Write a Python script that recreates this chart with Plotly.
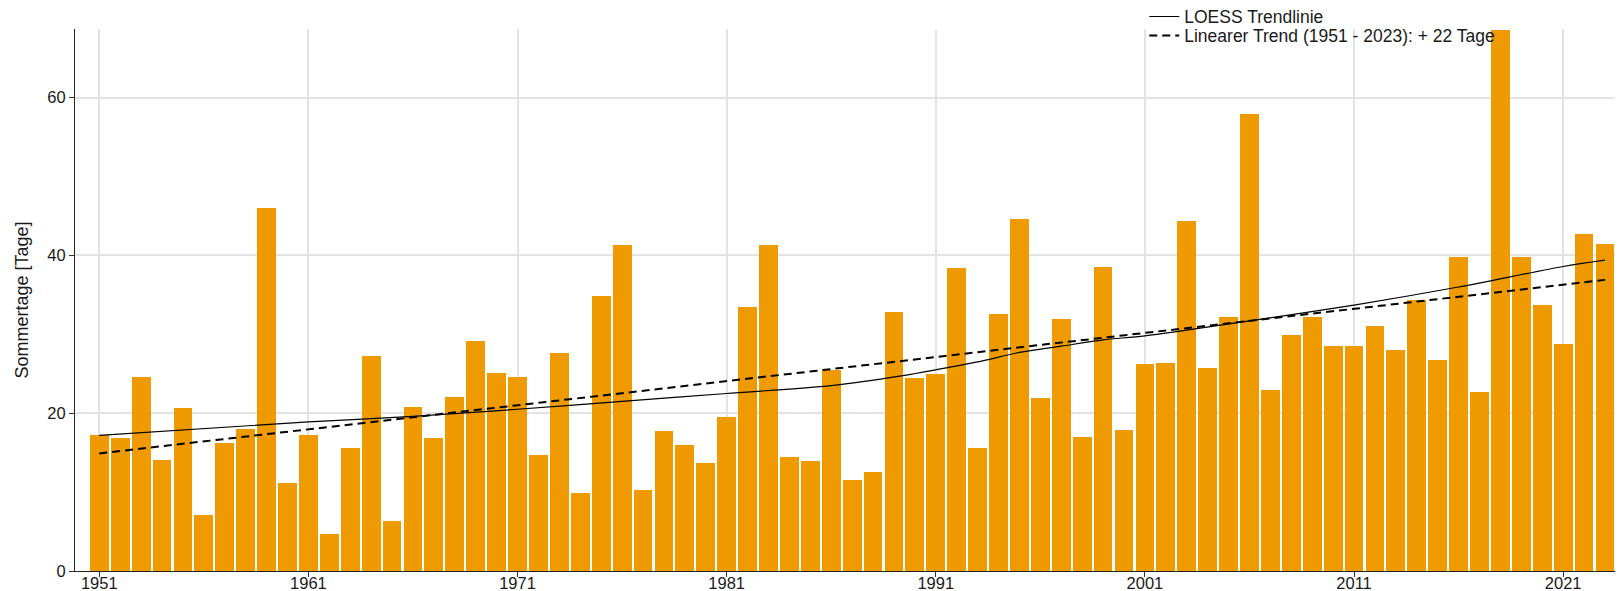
import plotly.graph_objects as go

years = list(range(1951, 2024))
sommertage = [
    17.3, 16.9, 24.6, 14.1, 20.6, 7.1, 16.2, 18.0, 46.0, 11.1,   # 1951-1960
    17.3, 4.7, 15.6, 27.3, 6.3, 20.8, 16.9, 22.1, 29.2, 25.1,    # 1961-1970
    24.6, 14.7, 27.6, 9.9, 34.8, 41.3, 10.3, 17.7, 16.0, 13.7,   # 1971-1980
    19.5, 33.4, 41.3, 14.4, 13.9, 25.5, 11.5, 12.6, 32.8, 24.5,  # 1981-1990
    25.0, 38.4, 15.6, 32.6, 44.6, 21.9, 32.0, 17.0, 38.5, 17.9,  # 1991-2000
    26.2, 26.4, 44.4, 25.7, 32.2, 57.9, 23.0, 29.9, 32.2, 28.5,  # 2001-2010
    28.5, 31.0, 28.0, 34.3, 26.7, 39.8, 22.7, 68.6, 39.8, 33.7,  # 2011-2020
    28.8, 42.7, 41.5,                                            # 2021-2023
]

loess_years = [1951, 1961, 1966, 1971, 1976, 1981, 1986, 1989.5, 1991, 1993,
               1995, 1997, 1999, 2001, 2006, 2011, 2016, 2021, 2023]
loess_vals = [17.2, 18.9, 19.6, 20.5, 21.5, 22.5, 23.5, 24.8, 25.5, 26.5,
              27.7, 28.5, 29.3, 29.8, 31.7, 33.7, 36.0, 38.6, 39.4]

linear_years = [1951, 2023]
linear_vals = [14.9, 36.9]

x_ticks = [1951, 1961, 1971, 1981, 1991, 2001, 2011, 2021]
y_ticks = [0, 20, 40, 60]

FONT = "Liberation Sans, Arial, sans-serif"
TXT = "#1a1a1a"

fig = go.Figure()
fig.add_trace(go.Bar(
    x=years, y=sommertage, width=0.9,
    marker=dict(color="#EE9A00", line=dict(width=0)),
    showlegend=False,
))
fig.add_trace(go.Scatter(
    x=loess_years, y=loess_vals, mode="lines",
    line=dict(color="black", width=1.2, shape="spline", smoothing=0.8),
    name="LOESS Trendlinie", legend="legend",
))
fig.add_trace(go.Scatter(
    x=linear_years, y=linear_vals, mode="lines",
    line=dict(color="black", width=2, dash="8px,5px"),
    name="Linearer Trend (1951 - 2023): + 22 Tage", legend="legend2",
))

leg_common = dict(xanchor="left", yanchor="top", bgcolor="rgba(0,0,0,0)",
                  borderwidth=0, font=dict(size=17.5, color=TXT))

fig.update_layout(
    width=1623, height=591,
    margin=dict(l=67, r=3, t=21, b=28, autoexpand=False),
    paper_bgcolor="white", plot_bgcolor="white",
    font=dict(family=FONT, size=16.5, color=TXT),
    bargap=0,
    legend=dict(x=0.6885, y=1.0560, **leg_common),
    legend2=dict(x=0.6885, y=1.0210, **leg_common),
    xaxis=dict(
        range=[1949.84, 2024.1],
        tickmode="array", tickvals=x_ticks, ticktext=[str(v) for v in x_ticks],
        showgrid=True, gridcolor="#e3e3e3", gridwidth=1.5,
        showline=True, linecolor="#222", linewidth=1,
        ticks="outside", ticklen=5, tickcolor="#333", tickwidth=1,
        zeroline=False, ticklabelstandoff=-8,
        tickfont=dict(size=16.5, color=TXT),
    ),
    yaxis=dict(
        range=[0, 68.7],
        tickmode="array", tickvals=y_ticks,
        showgrid=True, gridcolor="#e3e3e3", gridwidth=1.5,
        showline=True, linecolor="#222", linewidth=1,
        ticks="outside", ticklen=5, tickcolor="#333", tickwidth=1,
        zeroline=False,
        title=dict(text="Sommertage [Tage]", font=dict(size=18, color=TXT), standoff=14),
        tickfont=dict(size=16.5, color=TXT),
    ),
)

fig.write_html("out.html")
